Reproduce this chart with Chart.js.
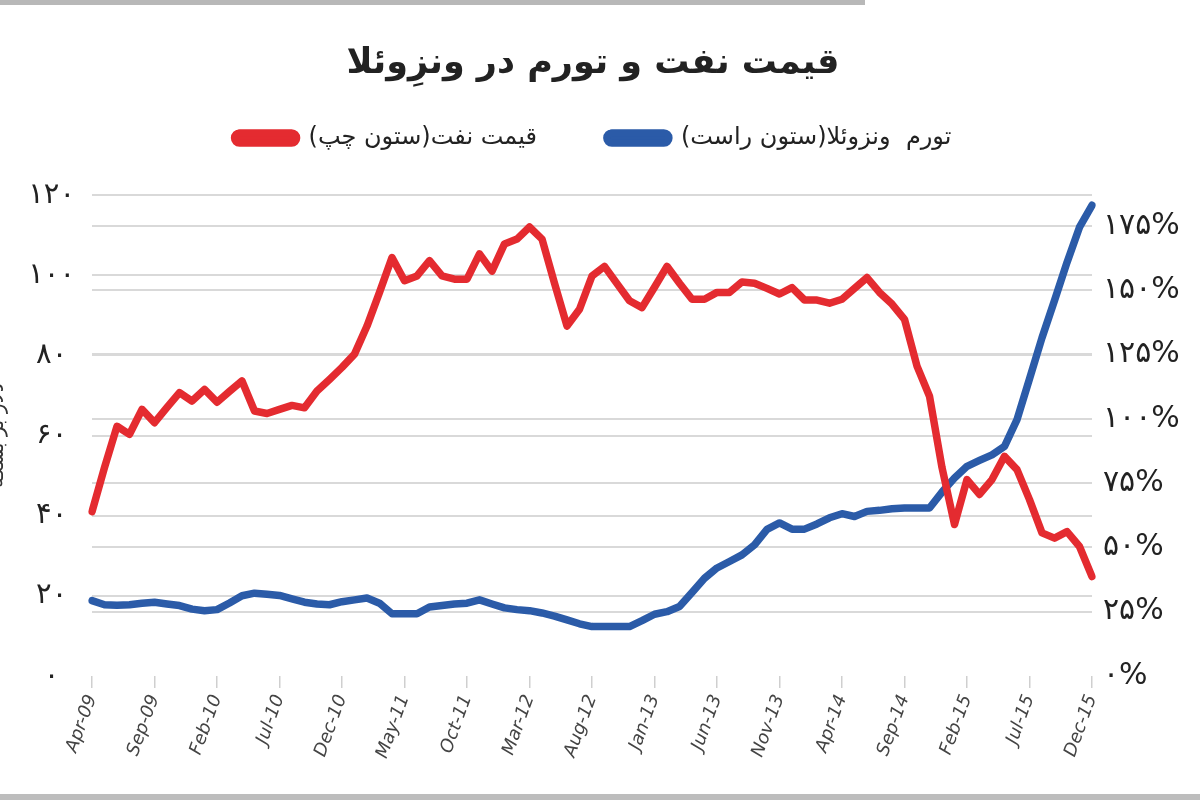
<!DOCTYPE html>
<html>
<head>
<meta charset="utf-8">
<title>قیمت نفت و تورم در ونزوئلا</title>
<script src="https://cdn.jsdelivr.net/npm/chart.js@4.4.1/dist/chart.umd.min.js"></script>
<style>
  html, body { margin: 0; padding: 0; background: #fff; overflow: hidden; }
  #wrap { position: absolute; left: -14px; top: 0; width: 1214px; height: 800px; }
  .bar-top { position: absolute; left: 0; top: 0; width: 865px; height: 5px; background: #b8b8b8; }
  .bar-bottom { position: absolute; left: 0; top: 794px; width: 1200px; height: 6px; background: #bdbdbd; }
</style>
</head>
<body>
<div class="bar-top"></div>
<div id="wrap"><canvas id="chart"></canvas></div>
<div class="bar-bottom"></div>
<script>
// ماه‌ها (Apr-09 تا Dec-15)
const months = [
  'Apr-09','May-09','Jun-09','Jul-09','Aug-09','Sep-09','Oct-09','Nov-09','Dec-09',
  'Jan-10','Feb-10','Mar-10','Apr-10','May-10','Jun-10','Jul-10','Aug-10','Sep-10','Oct-10','Nov-10','Dec-10',
  'Jan-11','Feb-11','Mar-11','Apr-11','May-11','Jun-11','Jul-11','Aug-11','Sep-11','Oct-11','Nov-11','Dec-11',
  'Jan-12','Feb-12','Mar-12','Apr-12','May-12','Jun-12','Jul-12','Aug-12','Sep-12','Oct-12','Nov-12','Dec-12',
  'Jan-13','Feb-13','Mar-13','Apr-13','May-13','Jun-13','Jul-13','Aug-13','Sep-13','Oct-13','Nov-13','Dec-13',
  'Jan-14','Feb-14','Mar-14','Apr-14','May-14','Jun-14','Jul-14','Aug-14','Sep-14','Oct-14','Nov-14','Dec-14',
  'Jan-15','Feb-15','Mar-15','Apr-15','May-15','Jun-15','Jul-15','Aug-15','Sep-15','Oct-15','Nov-15','Dec-15'
];

// قیمت نفت - دلار بر بشکه (ستون چپ)
const oilPrice = [
  41, 52, 62.3, 60.3, 66.5, 63.2, 67, 70.7, 68.6,
  71.5, 68.3, 71, 73.6, 66.1, 65.5, 66.5, 67.5, 66.9, 71.1, 74, 77,
  80.3, 87.3, 95.7, 104.4, 98.6, 99.8, 103.6, 99.8, 99, 99, 105.3, 101,
  107.8, 109, 112, 109, 98, 87.3, 91.5, 99.8, 102.2, 97.9, 93.6, 91.9,
  97, 102.2, 98, 94, 94, 95.7, 95.7, 98.3, 98, 96.7, 95.3, 96.9,
  93.8, 93.8, 93, 94, 96.7, 99.4, 95.7, 92.8, 89, 77.3, 69.8, 52,
  37.8, 49, 45.3, 49, 54.8, 51.5, 44, 35.7, 34.4, 36, 32.3, 24.8
];

// تورم ونزوئلا - درصد (ستون راست)
const inflation = [
  29.3, 27.7, 27.5, 27.7, 28.3, 28.7, 28, 27.4, 26,
  25.4, 25.8, 28.4, 31.2, 32.2, 31.8, 31.3, 30, 28.7, 28, 27.7, 28.9,
  29.6, 30.3, 28.3, 24.2, 24.2, 24.2, 26.8, 27.4, 28, 28.3, 29.6, 28,
  26.5, 25.8, 25.4, 24.5, 23.3, 21.8, 20.3, 19.2, 19.2, 19.2, 19.2, 21.5,
  24, 25, 27, 32.5, 38, 42, 44.5, 47.1, 51, 57, 59.5, 57.1,
  57.1, 59.1, 61.5, 63.1, 62, 64, 64.4, 65, 65.3, 65.3, 65.3, 71.5,
  77, 81.5, 83.8, 86, 89.3, 99.7, 115.5, 131.5, 146, 160.8, 174.5, 183
];

// برچسب‌های محور افقی (هر پنج ماه)
const xTickLabels = ['Apr-09','Sep-09','Feb-10','Jul-10','Dec-10','May-11','Oct-11','Mar-12','Aug-12',
  'Jan-13','Jun-13','Nov-13','Apr-14','Sep-14','Feb-15','Jul-15','Dec-15'];

// محور چپ
const leftTickValues = [0, 20, 40, 60, 80, 100, 120];
const leftTickLabels = ['۰', '۲۰', '۴۰', '۶۰', '۸۰', '۱۰۰', '۱۲۰'];

// محور راست
const rightTickValues = [0, 25, 50, 75, 100, 125, 150, 175];
const rightTickLabels = ['۰%', '۲۵%', '۵۰%', '۷۵%', '۱۰۰%', '۱۲۵%', '۱۵۰%', '۱۷۵%'];

const RED = '#e42b30';
const BLUE = '#2b5ba8';
const GRID = '#d9d9d9';
const FONT = "'DejaVu Sans', 'Noto Sans', sans-serif";

window.onload = function() {
  const ctx = document.getElementById('chart').getContext('2d');

  new Chart(ctx, {
    type: 'line',
    data: {
      labels: months,
      datasets: [
        {
          label: 'قیمت نفت(ستون چپ)',
          data: oilPrice,
          yAxisID: 'yLeft',
          borderColor: RED,
          backgroundColor: RED,
          borderWidth: 7.5,
          pointRadius: 0,
          tension: 0,
          borderJoinStyle: 'round',
          borderCapStyle: 'round'
        },
        {
          label: 'تورم  ونزوئلا(ستون راست)',
          data: inflation,
          yAxisID: 'yRight',
          borderColor: BLUE,
          backgroundColor: BLUE,
          borderWidth: 7.5,
          pointRadius: 0,
          tension: 0,
          borderJoinStyle: 'round',
          borderCapStyle: 'round'
        }
      ]
    },
    options: {
      responsive: true,
      maintainAspectRatio: false,
      animation: false,
      layout: { padding: { top: 0, left: 0, right: 0, bottom: 0 } },
      plugins: {
        title: {
          display: true,
          text: 'قیمت نفت و تورم در ونزِوئلا',
          color: '#222',
          font: { family: FONT, size: 35, weight: 'bold', lineHeight: 1.2 },
          padding: { top: 43, bottom: -29 }
        },
        subtitle: {
          // فاصلهٔ خالی بین راهنما و نمودار
          display: true,
          text: '',
          weight: 500,
          font: { size: 10, lineHeight: 1.2 },
          padding: { top: 0, bottom: 23 }
        },
        legend: {
          display: true,
          position: 'top',
          textDirection: 'rtl',
          labels: {
            color: '#222',
            font: { family: FONT, size: 24 },
            boxWidth: 62,
            boxHeight: 10,
            useBorderRadius: true,
            borderRadius: 5,
            padding: 70
          }
        },
        tooltip: { enabled: false }
      },
      scales: {
        x: {
          border: { display: false },
          grid: {
            drawOnChartArea: false,
            drawTicks: true,
            tickLength: 12,
            lineWidth: 1.5,
            color: c => (c.tick && xTickLabels.includes(months[c.index])) ? '#cfcfcf' : 'rgba(0,0,0,0)'
          },
          ticks: {
            autoSkip: false,
            minRotation: 70,
            maxRotation: 70,
            padding: 4,
            color: '#444',
            font: { family: FONT, size: 18, style: 'italic' },
            callback: function(value, index) {
              const m = months[index];
              return xTickLabels.includes(m) ? m : '';
            }
          },
          afterFit: scale => { scale.height = 124; }
        },
        yLeft: {
          type: 'linear',
          position: 'left',
          min: 0,
          max: 120,
          border: { display: false },
          grid: {
            drawTicks: false,
            lineWidth: 2,
            color: c => (c.tick && c.tick.value === 0) ? 'rgba(0,0,0,0)' : GRID
          },
          afterBuildTicks: scale => { scale.ticks = leftTickValues.map(v => ({ value: v })); },
          ticks: {
            padding: 17,
            crossAlign: 'center',
            color: '#222',
            font: { family: FONT, size: 29 },
            callback: v => leftTickLabels[leftTickValues.indexOf(v)]
          },
          title: {
            display: true,
            text: 'دلار بر بشکه',
            color: '#333',
            font: { family: FONT, size: 20 },
            padding: 0
          },
          afterFit: scale => { scale.width = 106; }
        },
        yRight: {
          type: 'linear',
          position: 'right',
          min: 0,
          max: 187,
          border: { display: false },
          grid: {
            drawTicks: false,
            lineWidth: 2,
            color: c => (c.tick && c.tick.value === 0) ? 'rgba(0,0,0,0)' : GRID
          },
          afterBuildTicks: scale => { scale.ticks = rightTickValues.map(v => ({ value: v })); },
          ticks: {
            padding: 11,
            color: '#222',
            font: { family: FONT, size: 30 },
            callback: v => rightTickLabels[rightTickValues.indexOf(v)]
          },
          afterFit: scale => { scale.width = 108; }
        }
      }
    }
  });
};
</script>
</body>
</html>
